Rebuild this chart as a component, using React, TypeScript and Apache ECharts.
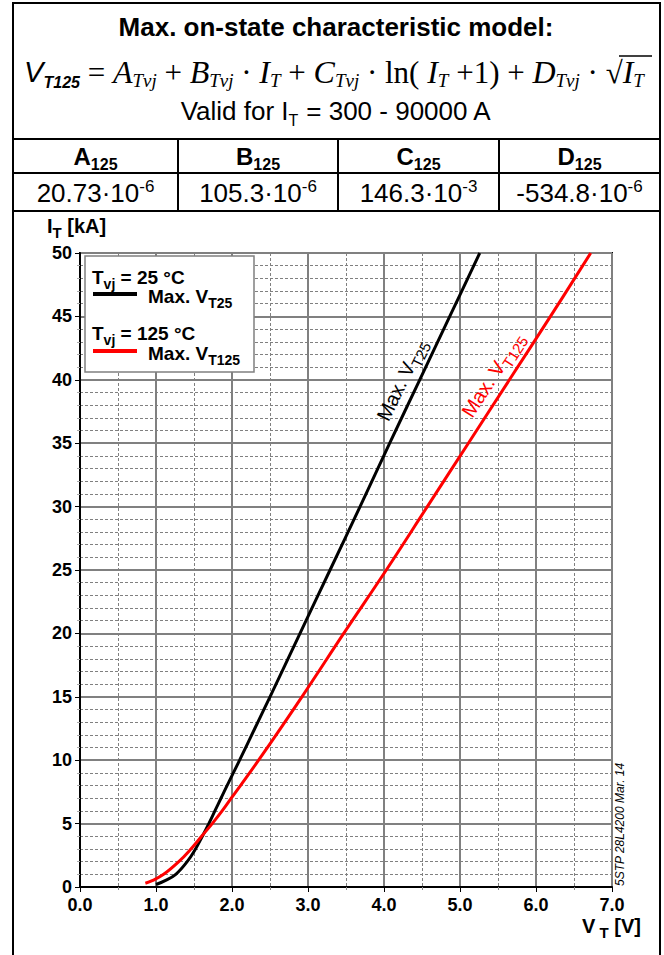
import React, { useEffect, useRef } from "react";
import * as echarts from "echarts";

// ---- data ----
// V_T [V] against I_T [kA]
const vt25Volts = [1.0, 1.12, 1.26, 1.41, 1.52, 1.61, 1.695, 1.775, 1.855, 1.935, 2.1, 2.3, 2.5, 2.895, 3.29, 3.685, 4.075, 4.47, 4.865, 5.26];
const vt25Amps = [0.2, 0.5, 1.0, 2.0, 3.0, 4.0, 5.0, 6.0, 7.0, 8.0, 10, 12.5, 15, 20, 25, 30, 35, 40, 45, 50];
const vt125Volts = [0.86, 0.95, 1.1, 1.3, 1.46, 1.6, 1.74, 1.87, 1.99, 2.35, 2.92, 3.47, 4.03, 4.57, 5.11, 5.65, 6.19, 6.72];
const vt125Amps = [0.3, 0.5, 1.0, 2.0, 3.0, 4.0, 5.0, 6.0, 7.0, 10, 15, 20, 25, 30, 35, 40, 45, 50];

const xTicks = ["0.0", "1.0", "2.0", "3.0", "4.0", "5.0", "6.0", "7.0"];
const yTicks = [0, 5, 10, 15, 20, 25, 30, 35, 40, 45, 50];

const paramNames = ["A", "B", "C", "D"];
const paramSub = "125";
const paramMantissa = ["20.73·10", "105.3·10", "146.3·10", "-534.8·10"];
const paramExp = ["-6", "-6", "-3", "-6"];

const SANS = "'Liberation Sans', Arial, sans-serif";
const SERIF = "'Liberation Serif', 'Times New Roman', serif";

const subRich = (size: number, sub: number, weight: string, fill?: string) => ({
  b: { fontFamily: SANS, fontWeight: weight, fontSize: size, lineHeight: size + 4, verticalAlign: "middle", ...(fill ? { fill } : {}) },
  s: { fontFamily: SANS, fontWeight: weight, fontSize: sub, lineHeight: size + 8, verticalAlign: "bottom", ...(fill ? { fill } : {}) },
});

export default function App() {
  const ref = useRef<HTMLDivElement>(null);

  useEffect(() => {
    document.body.style.margin = "0";
    const chart = echarts.init(ref.current!, null, { renderer: "svg" });

    const toPairs = (xs: number[], ys: number[]) => xs.map((x, i) => [x, ys[i]]);

    chart.setOption({
      animation: false,
      backgroundColor: "#fff",
      grid: {
        left: 80,
        right: 52,
        top: 253,
        bottom: 68,
        show: true,
        borderColor: "#000",
        borderWidth: 2,
        containLabel: false,
      },
      xAxis: {
        type: "value",
        min: 0,
        max: 7,
        interval: 1,
        axisLine: { show: true, onZero: false, lineStyle: { color: "#000", width: 2 } },
        axisTick: { show: true, length: 5, lineStyle: { color: "#000", width: 1 } },
        minorTick: { show: true, splitNumber: 2, length: 3, lineStyle: { color: "#888" } },
        axisLabel: {
          margin: 9,
          color: "#000",
          fontFamily: SANS,
          fontWeight: "bold",
          fontSize: 18,
          formatter: (v: number) => xTicks[Math.round(v)] ?? "",
        },
        splitLine: { show: true, lineStyle: { color: "#808080", width: 2 } },
        minorSplitLine: { show: true, lineStyle: { color: "#808080", width: 1, type: [3, 2] } },
      },
      yAxis: {
        type: "value",
        min: 0,
        max: 50,
        interval: 5,
        axisLine: { show: true, onZero: false, lineStyle: { color: "#000", width: 2 } },
        axisTick: { show: true, length: 5, lineStyle: { color: "#000", width: 1 } },
        minorTick: { show: true, splitNumber: 5, length: 3, lineStyle: { color: "#aaa" } },
        axisLabel: {
          margin: 8,
          color: "#000",
          fontFamily: SANS,
          fontWeight: "bold",
          fontSize: 18,
          formatter: (v: number) => (yTicks.includes(v) ? String(v) : ""),
        },
        splitLine: { show: true, lineStyle: { color: "#808080", width: 2 } },
        minorSplitLine: { show: true, lineStyle: { color: "#808080", width: 1, type: [3, 2] } },
      },
      series: [
        {
          name: "Max. VT25",
          type: "line",
          data: toPairs(vt25Volts, vt25Amps),
          showSymbol: false,
          smooth: 0.4,
          lineStyle: { color: "#000", width: 3 },
          z: 3,
        },
        {
          name: "Max. VT125",
          type: "line",
          data: toPairs(vt125Volts, vt125Amps),
          showSymbol: false,
          smooth: 0.4,
          lineStyle: { color: "#ff0000", width: 3 },
          z: 4,
        },
      ],
    });

    const p25 = chart.convertToPixel({ gridIndex: 0 }, [4.23, 40.0]) as number[];
    const p125 = chart.convertToPixel({ gridIndex: 0 }, [5.43, 40.4]) as number[];
    const ang25 = (64 * Math.PI) / 180;
    const ang125 = (57 * Math.PI) / 180;

    const colLines = [178, 338, 499];
    const colCenters = [95.5, 258, 418.5, 579.5];

    const graphic: any[] = [
      // outer frame and table lines
      { type: "rect", shape: { x: 13, y: 3, width: 647, height: 1000 }, style: { fill: "none", stroke: "#000", lineWidth: 2 }, z: 100 },
      { type: "line", shape: { x1: 13, y1: 139, x2: 660, y2: 139 }, style: { stroke: "#000", lineWidth: 2 }, z: 100 },
      { type: "line", shape: { x1: 13, y1: 173, x2: 660, y2: 173 }, style: { stroke: "#000", lineWidth: 2 }, z: 100 },
      { type: "line", shape: { x1: 13, y1: 211, x2: 660, y2: 211 }, style: { stroke: "#000", lineWidth: 2 }, z: 100 },
      ...colLines.map((x) => ({ type: "line", shape: { x1: x, y1: 139, x2: x, y2: 211 }, style: { stroke: "#000", lineWidth: 2 }, z: 100 })),
      // title
      {
        type: "text", x: 336, y: 27, z: 100,
        style: { text: "Max. on-state characteristic model:", fontFamily: SANS, fontWeight: "bold", fontSize: 26, fill: "#000", align: "center", verticalAlign: "middle" },
      },
      // formula
      {
        type: "text", x: 334, y: 72, z: 100,
        style: {
          text: "{v|V}{vs|T125}{op| = }{i|A}{s|Tvj}{op| + }{i|B}{s|Tvj}{op| · }{i|I}{s|T}{op| + }{i|C}{s|Tvj}{op| · ln( }{i|I}{s|T}{op| +1) + }{i|D}{s|Tvj}{op| · √}{i|I}{s|T}",
          align: "center",
          verticalAlign: "middle",
          fill: "#000",
          rich: {
            v: { fontFamily: SANS, fontStyle: "italic", fontSize: 29, lineHeight: 36, verticalAlign: "middle" },
            vs: { fontFamily: SANS, fontStyle: "italic", fontWeight: "bold", fontSize: 16, lineHeight: 24, verticalAlign: "bottom" },
            op: { fontFamily: SERIF, fontSize: 31, lineHeight: 36, verticalAlign: "middle" },
            i: { fontFamily: SERIF, fontStyle: "italic", fontSize: 32, lineHeight: 36, verticalAlign: "middle" },
            s: { fontFamily: SERIF, fontStyle: "italic", fontSize: 19, lineHeight: 26, verticalAlign: "bottom" },
          },
        },
      },
      // sqrt overline
      { type: "line", shape: { x1: 619, y1: 56, x2: 652, y2: 56 }, style: { stroke: "#000", lineWidth: 1.5 }, z: 100 },
      // validity range
      {
        type: "text", x: 336, y: 111, z: 100,
        style: {
          text: "{b|Valid for I}{s|T}{b| = 300 - 90000 A}",
          align: "center", verticalAlign: "middle", fill: "#000",
          rich: subRich(26, 16, "normal"),
        },
      },
      // header cells
      ...paramNames.map((n, i) => ({
        type: "text", x: colCenters[i], y: 156, z: 100,
        style: {
          text: `{b|${n}}{s|${paramSub}}`,
          align: "center", verticalAlign: "middle", fill: "#000",
          rich: subRich(24, 16, "bold"),
        },
      })),
      ...paramMantissa.map((m, i) => ({
        type: "text", x: colCenters[i], y: 193, z: 100,
        style: {
          text: `{n|${m}}{e|${paramExp[i]}}`,
          align: "center", verticalAlign: "middle", fill: "#000",
          rich: {
            n: { fontFamily: SANS, fontSize: 26, lineHeight: 30, verticalAlign: "middle" },
            e: { fontFamily: SANS, fontSize: 17, lineHeight: 28, verticalAlign: "top" },
          },
        },
      })),
      // y axis name
      {
        type: "text", x: 47, y: 226, z: 100,
        style: {
          text: "{b|I}{s|T}{b| [kA]}",
          align: "left", verticalAlign: "middle", fill: "#000",
          rich: subRich(20, 15, "bold"),
        },
      },
      // x axis name
      {
        type: "text", x: 641, y: 926, z: 100,
        style: {
          text: "{b|V}{s| T}{b| [V]}",
          align: "right", verticalAlign: "middle", fill: "#000",
          rich: subRich(20, 15, "bold"),
        },
      },
      // document id
      {
        type: "text", x: 620, y: 886, rotation: Math.PI / 2, z: 100,
        style: { text: "5STP 28L4200 Mar. 14", fontFamily: SANS, fontStyle: "italic", fontSize: 12, fill: "#000", align: "left", verticalAlign: "middle" },
      },
      // legend box
      { type: "rect", shape: { x: 85, y: 256, width: 169, height: 116 }, style: { fill: "#fff", stroke: "#808080", lineWidth: 1.5 }, z: 90 },
      {
        type: "text", x: 92, y: 277, z: 100,
        style: { text: "{b|T}{s|vj}{b| = 25 °C}", align: "left", verticalAlign: "middle", fill: "#000", rich: subRich(19, 14, "bold") },
      },
      { type: "line", shape: { x1: 93, y1: 294, x2: 137, y2: 294 }, style: { stroke: "#000", lineWidth: 4 }, z: 100 },
      {
        type: "text", x: 148, y: 296, z: 100,
        style: { text: "{b|Max. V}{s|T25}", align: "left", verticalAlign: "middle", fill: "#000", rich: subRich(19, 14, "bold") },
      },
      {
        type: "text", x: 92, y: 333, z: 100,
        style: { text: "{b|T}{s|vj}{b| = 125 °C}", align: "left", verticalAlign: "middle", fill: "#000", rich: subRich(19, 14, "bold") },
      },
      { type: "line", shape: { x1: 93, y1: 351, x2: 137, y2: 351 }, style: { stroke: "#ff0000", lineWidth: 4 }, z: 100 },
      {
        type: "text", x: 148, y: 353, z: 100,
        style: { text: "{b|Max. V}{s|T125}", align: "left", verticalAlign: "middle", fill: "#000", rich: subRich(19, 14, "bold") },
      },
      // curve labels
      {
        type: "text", x: p25[0], y: p25[1], rotation: ang25, z: 100,
        style: { text: "{b|Max. V}{s|T25}", align: "center", verticalAlign: "middle", fill: "#000", rich: subRich(20, 15, "normal", "#000") },
      },
      {
        type: "text", x: p125[0], y: p125[1], rotation: ang125, z: 100,
        style: { text: "{b|Max. V}{s|T125}", align: "center", verticalAlign: "middle", fill: "#ff0000", rich: subRich(20, 15, "normal", "#ff0000") },
      },
    ];

    chart.setOption({ graphic });

    return () => chart.dispose();
  }, []);

  return <div ref={ref} style={{ width: 664, height: 955 }} />;
}
